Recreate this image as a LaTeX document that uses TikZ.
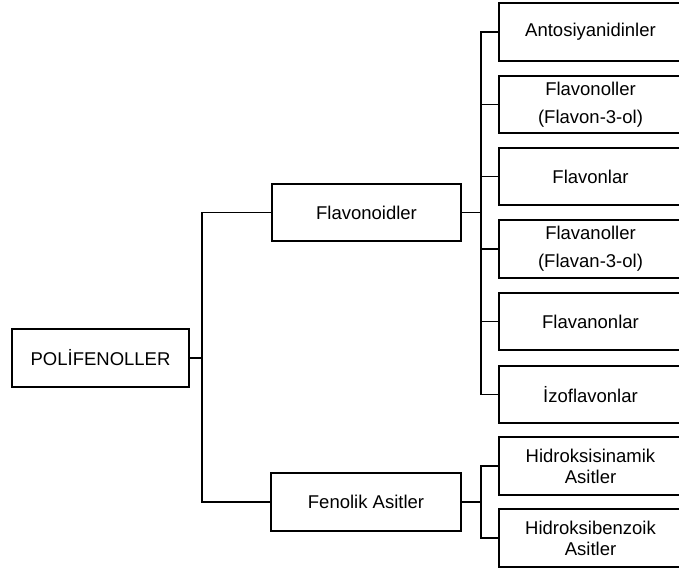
\documentclass[tikz,border=0pt]{standalone}
\usepackage{fontspec}
\setmainfont{Liberation Sans}
\tikzset{
  kutu/.style={draw, line width=1.9pt, minimum height=57.5pt, inner sep=0pt, align=center,
    font=\fontsize{18.5}{21}\selectfont},
  dal/.style={line width=1.9pt}
}
\begin{document}
\begin{tikzpicture}[x=1pt, y=-1pt]
        \useasboundingbox (0,0) rectangle (679,572);

        % Ana kutu
        \node[kutu, minimum width=177pt] (pol) at (100.5,358) {POLİFENOLLER};

        % Alt gruplar
        \node[kutu, minimum width=189pt] (flv) at (366.5,212.5) {Flavonoidler};
        \node[kutu, minimum width=190pt] (fen) at (366,502) {Fenolik Asitler};

        % Flavonoidler
        \node[kutu, minimum width=183pt] (ant) at (590.5,32) {\strut Antosiyanidinler};
        \node[kutu, minimum width=183pt] (fol) at (590.5,104.5) {Flavonoller\\[7pt](Flavon-3-ol)};
        \node[kutu, minimum width=183pt] (fon) at (590.5,176.5) {Flavonlar};
        \node[kutu, minimum width=183pt] (fan) at (590.5,249) {Flavanoller\\[7pt](Flavan-3-ol)};
        \node[kutu, minimum width=183pt] (fnn) at (590.5,321.5) {Flavanonlar};
        \node[kutu, minimum width=183pt] (izo) at (590.5,394.5) {İzoflavonlar};

        % Fenolik asitler
        \node[kutu, minimum width=183pt] (hsn) at (590.5,466) {Hidroksisinamik\\Asitler};
        \node[kutu, minimum width=183pt] (hbz) at (590.5,538) {Hidroksibenzoik\\Asitler};

        % Baglantilar
        \draw[dal] (pol.east) -- ++(12,0) coordinate (t1);
        \draw[dal] (t1) |- (flv.west);
        \draw[dal] (t1) |- (fen.west);

        \draw[dal] (flv.east) -- ++(19,0) coordinate (t2);
        \foreach \c in {ant,fol,fon,fan,fnn,izo}
          \draw[dal] (t2) |- (\c.west);

        \draw[dal] (fen.east) -- ++(19,0) coordinate (t3);
        \foreach \c in {hsn,hbz}
          \draw[dal] (t3) |- (\c.west);

\end{tikzpicture}
\end{document}
